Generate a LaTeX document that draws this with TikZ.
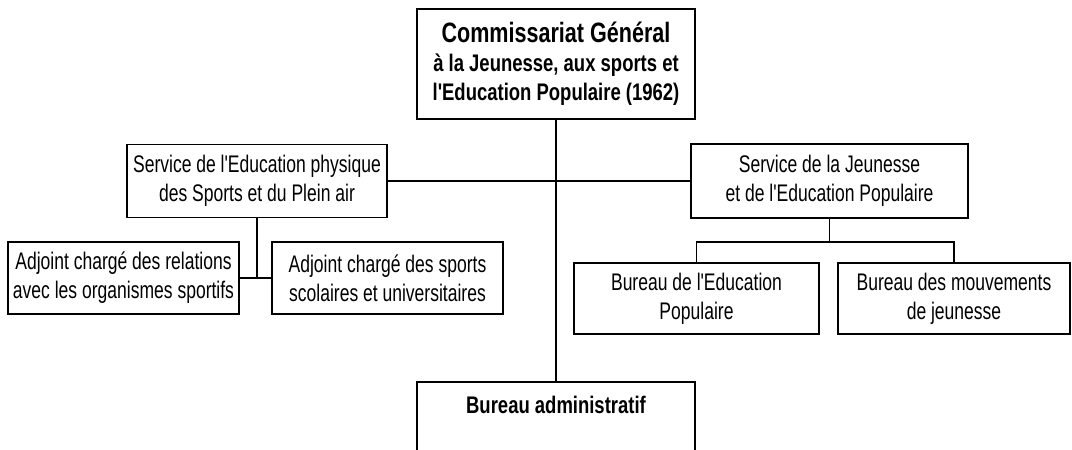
\documentclass[tikz,border=0pt]{standalone}
\usepackage{fontspec}
\newfontfamily\regfont{Liberation Sans}[FakeStretch=0.73, Ligatures=TeXOff]
\newfontfamily\boldfont{Liberation Sans}[FakeStretch=0.77, Ligatures=TeXOff]

\begin{document}
\begin{tikzpicture}[x=1pt, y=-1pt, line width=1.5pt,
        bloc/.style={draw, align=center, inner sep=0pt, font=\regfont\fontsize{24}{29}\selectfont},
        chef/.style={bloc, font=\boldfont\bfseries\fontsize{24}{29}\selectfont}]
        \useasboundingbox (0,0) rectangle (1072,450);
        \clip (0,0) rectangle (1072,450);

        \node[chef, minimum width=278pt, minimum height=110pt] (comm) at (556,64)
            {{\fontsize{28}{29}\selectfont Commissariat Général}\\ à la Jeunesse, aux sports et\\ l'Education Populaire (1962)};
        \node[bloc, minimum width=260pt, minimum height=73pt] (sepl) at (257,181)
            {Service de l'Education physique\\ des Sports et du Plein air};
        \node[bloc, minimum width=277pt, minimum height=74pt] (sjep) at (829.5,181)
            {Service de la Jeunesse\\ et de l'Education Populaire};
        \node[bloc, minimum width=231pt, minimum height=72pt] (adj1) at (123.5,278)
            {Adjoint chargé des relations\\ avec les organismes sportifs};
        \node[bloc, minimum width=231pt, minimum height=72pt] (adj2) at (387.5,278)
            {Adjoint chargé des sports\\ scolaires et universitaires};
        \node[bloc, minimum width=245pt, minimum height=71pt] (bep) at (696.5,298.5)
            {Bureau de l'Education\\ Populaire};
        \node[bloc, minimum width=232pt, minimum height=71pt] (bmj) at (954,298.5)
            {Bureau des mouvements\\ de jeunesse};
        \node[chef, anchor=north, minimum width=278pt, inner ysep=14pt, text depth=70pt] (badm) at (556,381)
            {Bureau administratif};

        \coordinate (fork) at (829.5,242);

        \draw (comm) -- (badm);
        \draw (sepl.east) -- (sjep.west);
        \draw (sepl.south) |- (adj1.east);
        \draw (sepl.south) |- (adj2.west);
        \draw (sjep.south) -- (fork);
        \draw (bep.north) |- (fork) -| (bmj.north);
    \end{tikzpicture}
\end{document}
